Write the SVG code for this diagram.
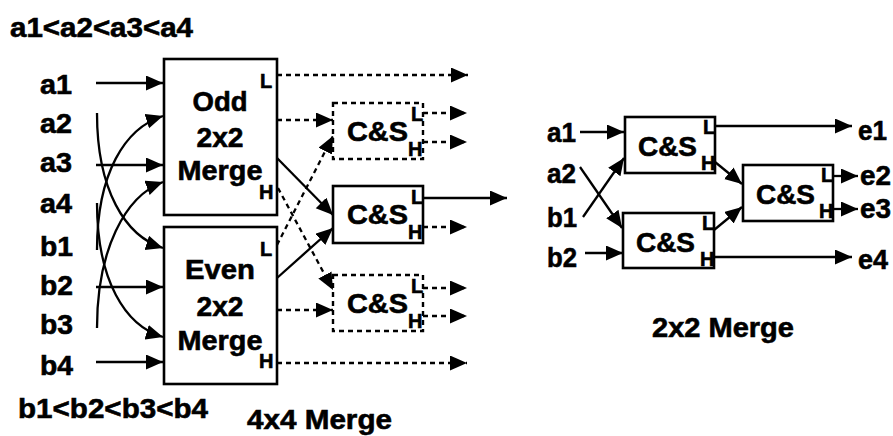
<svg xmlns="http://www.w3.org/2000/svg" width="893" height="436" viewBox="0 0 893 436">
<defs>
<marker id="ah" markerUnits="userSpaceOnUse" markerWidth="18" markerHeight="16" refX="17" refY="7.5" orient="auto">
<path d="M0,0 L17,7.5 L0,15 Z" fill="#000"/>
</marker>
<style>
text{font-family:"Liberation Sans",Arial,sans-serif;font-weight:bold;fill:#000;stroke:#000;stroke-width:0.6}
.lbl{font-size:28px}
.big{font-size:28px}
.cs{font-size:28px}
.sm{font-size:20px}
.box{fill:#fff;stroke:#000;stroke-width:2.6}
.dbox{fill:#fff;stroke:#000;stroke-width:2.4;stroke-dasharray:5,4}
.ln{fill:none;stroke:#000;stroke-width:2.3}
.ln path,.ln line{marker-end:url(#ah)}
.d{stroke-dasharray:5,4}
</style>
</defs>

<rect width="893" height="436" fill="#fff"/>

<text class="lbl" x="10" y="37" textLength="183" lengthAdjust="spacingAndGlyphs">a1&lt;a2&lt;a3&lt;a4</text>
<text class="lbl" x="18" y="418" textLength="190" lengthAdjust="spacingAndGlyphs">b1&lt;b2&lt;b3&lt;b4</text>

<g id="inputs-left">
<text class="lbl" x="40" y="94" textLength="32" lengthAdjust="spacingAndGlyphs">a1</text>
<text class="lbl" x="40" y="133" textLength="32" lengthAdjust="spacingAndGlyphs">a2</text>
<text class="lbl" x="40" y="172" textLength="32" lengthAdjust="spacingAndGlyphs">a3</text>
<text class="lbl" x="40" y="213" textLength="32" lengthAdjust="spacingAndGlyphs">a4</text>
<text class="lbl" x="40" y="256" textLength="33" lengthAdjust="spacingAndGlyphs">b1</text>
<text class="lbl" x="40" y="295" textLength="33" lengthAdjust="spacingAndGlyphs">b2</text>
<text class="lbl" x="40" y="334" textLength="33" lengthAdjust="spacingAndGlyphs">b3</text>
<text class="lbl" x="40" y="375" textLength="33" lengthAdjust="spacingAndGlyphs">b4</text>
</g>

<g id="odd">
<rect class="box" x="164" y="59" width="113" height="156"/>
<text class="big" x="220" y="111" text-anchor="middle" textLength="55" lengthAdjust="spacingAndGlyphs">Odd</text>
<text class="big" x="220" y="147" text-anchor="middle" textLength="47" lengthAdjust="spacingAndGlyphs">2x2</text>
<text class="big" x="220" y="180" text-anchor="middle" textLength="85" lengthAdjust="spacingAndGlyphs">Merge</text>
<text class="sm" x="260" y="88">L</text>
<text class="sm" x="259" y="199">H</text>
</g>

<g id="even">
<rect class="box" x="164" y="227" width="113" height="157"/>
<text class="big" x="220" y="279" text-anchor="middle" textLength="70" lengthAdjust="spacingAndGlyphs">Even</text>
<text class="big" x="220" y="316" text-anchor="middle" textLength="47" lengthAdjust="spacingAndGlyphs">2x2</text>
<text class="big" x="220" y="350" text-anchor="middle" textLength="85" lengthAdjust="spacingAndGlyphs">Merge</text>
<text class="sm" x="260" y="256">L</text>
<text class="sm" x="259" y="368">H</text>
</g>

<g id="cs1">
<rect class="dbox" x="333" y="103" width="90" height="56"/>
<text class="cs" x="347" y="141" textLength="61" lengthAdjust="spacingAndGlyphs">C&amp;S</text>
<text class="sm" x="411" y="121">L</text>
<text class="sm" x="408" y="156">H</text>
</g>

<g id="cs2">
<rect class="box" x="333" y="186" width="90" height="57"/>
<text class="cs" x="347" y="224" textLength="61" lengthAdjust="spacingAndGlyphs">C&amp;S</text>
<text class="sm" x="411" y="204">L</text>
<text class="sm" x="408" y="239">H</text>
</g>

<g id="cs3">
<rect class="dbox" x="333" y="275" width="90" height="56"/>
<text class="cs" x="347" y="313" textLength="61" lengthAdjust="spacingAndGlyphs">C&amp;S</text>
<text class="sm" x="411" y="293">L</text>
<text class="sm" x="408" y="328">H</text>
</g>

<text class="big" x="247" y="429" textLength="145" lengthAdjust="spacingAndGlyphs">4x4 Merge</text>

<g id="connectors-left" class="ln">
<line x1="96" y1="83" x2="163" y2="83"/>
<line x1="96" y1="165" x2="163" y2="165"/>
<line x1="96" y1="287" x2="163" y2="287"/>
<line x1="96" y1="362" x2="163" y2="362"/>
<path d="M97,113 C97,190 125,236 163,248"/>
<path d="M97,203 C97,280 125,326 163,337"/>
<path d="M97,250 C97,173 125,128 163,116"/>
<path d="M97,328 C97,250 125,196 163,182"/>

<line class="d" x1="277" y1="75" x2="468" y2="75"/>
<line class="d" x1="277" y1="120" x2="333" y2="120"/>
<line class="d" x1="423" y1="113" x2="467" y2="113"/>
<line class="d" x1="423" y1="142" x2="467" y2="142"/>
<line x1="277" y1="158" x2="333" y2="215"/>
<line class="d" x1="278" y1="188" x2="333" y2="290"/>
<line class="d" x1="277" y1="245" x2="333" y2="136"/>
<line x1="277" y1="278" x2="333" y2="228"/>
<line x1="423" y1="198" x2="507" y2="198"/>
<line class="d" x1="423" y1="227" x2="467" y2="227"/>
<line class="d" x1="277" y1="310" x2="333" y2="310"/>
<line class="d" x1="423" y1="288" x2="467" y2="288"/>
<line class="d" x1="423" y1="316" x2="467" y2="316"/>
<line class="d" x1="277" y1="363" x2="467" y2="363"/>
</g>

<g id="inputs-right">
<text class="lbl" x="547" y="142" textLength="29" lengthAdjust="spacingAndGlyphs">a1</text>
<text class="lbl" x="547" y="183" textLength="29" lengthAdjust="spacingAndGlyphs">a2</text>
<text class="lbl" x="547" y="227" textLength="30" lengthAdjust="spacingAndGlyphs">b1</text>
<text class="lbl" x="547" y="267" textLength="30" lengthAdjust="spacingAndGlyphs">b2</text>
</g>

<g id="r-cs-top">
<rect class="box" x="625" y="117" width="90" height="56"/>
<text class="cs" x="638" y="156" textLength="59" lengthAdjust="spacingAndGlyphs">C&amp;S</text>
<text class="sm" x="703" y="134">L</text>
<text class="sm" x="701" y="170">H</text>
</g>

<g id="r-cs-bottom">
<rect class="box" x="623" y="213" width="91" height="55"/>
<text class="cs" x="636" y="252" textLength="59" lengthAdjust="spacingAndGlyphs">C&amp;S</text>
<text class="sm" x="702" y="230">L</text>
<text class="sm" x="700" y="266">H</text>
</g>

<g id="r-cs-right">
<rect class="box" x="743" y="165" width="90" height="56"/>
<text class="cs" x="756" y="204" textLength="59" lengthAdjust="spacingAndGlyphs">C&amp;S</text>
<text class="sm" x="821" y="182">L</text>
<text class="sm" x="819" y="218">H</text>
</g>

<g id="outputs-right">
<text class="lbl" x="858" y="140" textLength="29" lengthAdjust="spacingAndGlyphs">e1</text>
<text class="lbl" x="860" y="185" textLength="31" lengthAdjust="spacingAndGlyphs">e2</text>
<text class="lbl" x="860" y="218" textLength="31" lengthAdjust="spacingAndGlyphs">e3</text>
<text class="lbl" x="858" y="269" textLength="30" lengthAdjust="spacingAndGlyphs">e4</text>
</g>

<g id="connectors-right" class="ln">
<line x1="580" y1="132" x2="624" y2="132"/>
<line x1="583" y1="217" x2="624" y2="158"/>
<line x1="580" y1="167" x2="622" y2="228"/>
<line x1="585" y1="253" x2="623" y2="253"/>
<line x1="715" y1="126" x2="852" y2="126"/>
<line x1="715" y1="162" x2="742" y2="184"/>
<line x1="714" y1="230" x2="742" y2="207"/>
<line x1="714" y1="257" x2="852" y2="257"/>
<line x1="833" y1="176" x2="858" y2="176"/>
<line x1="833" y1="209" x2="858" y2="209"/>
</g>

<text class="big" x="652" y="337" textLength="142" lengthAdjust="spacingAndGlyphs">2x2 Merge</text>
</svg>
